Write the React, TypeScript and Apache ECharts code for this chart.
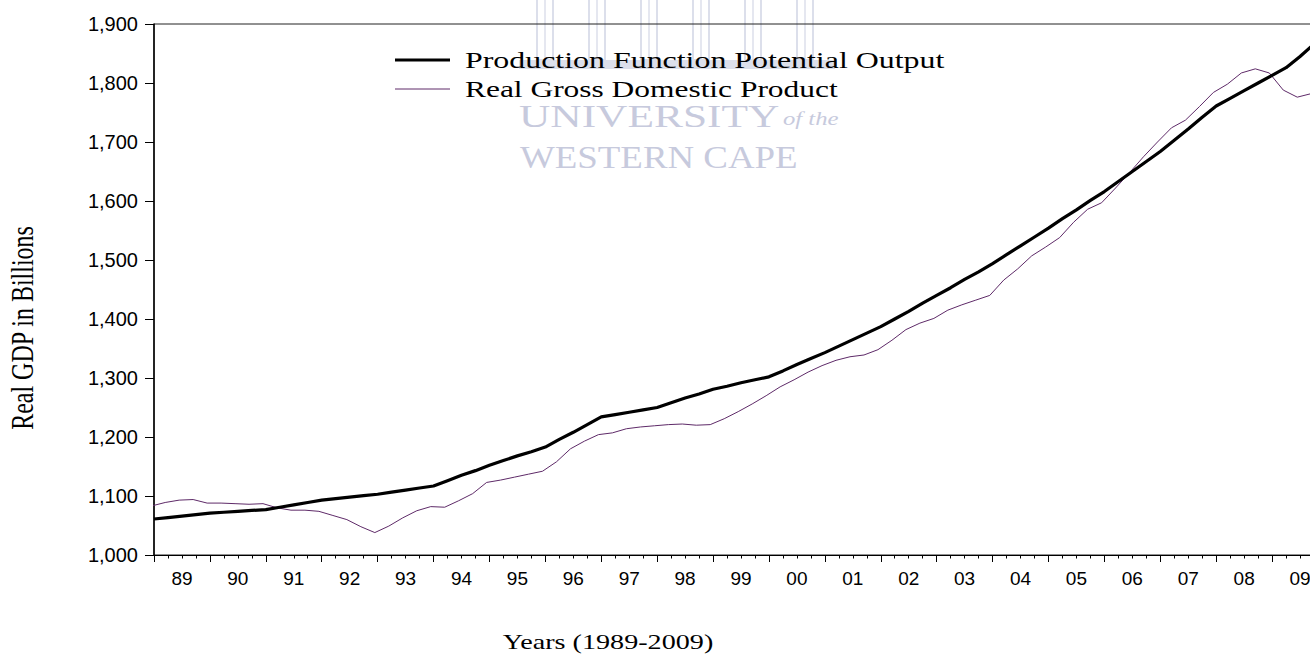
import React, { useEffect, useRef } from 'react';
import * as echarts from 'echarts';

// Year labels on the x axis (1989-2009), one band per year, four quarters each
const yearLabels = ['89', '90', '91', '92', '93', '94', '95', '96', '97', '98', '99', '00', '01', '02', '03', '04', '05', '06', '07', '08', '09'];

// Production Function Potential Output, quarterly 1989Q1-2009Q4 (R billions)
const potentialOutput = [
  1061, 1063.5, 1066, 1068.5, 1071, 1072.5, 1074, 1075.5, 1077, 1081, 1085, 1089,
  1093, 1095.5, 1098, 1100.5, 1103, 1106.5, 1110, 1113.5, 1117, 1126, 1135, 1143,
  1152, 1160, 1168, 1175, 1183, 1196, 1208, 1221, 1234, 1238, 1242, 1246,
  1250, 1258, 1266, 1273, 1281, 1286, 1292, 1297, 1302, 1312, 1323, 1333,
  1343, 1354, 1365, 1376, 1387, 1400, 1413, 1427, 1440, 1453, 1467, 1480,
  1494, 1509, 1524, 1539, 1554, 1570, 1585, 1601, 1616, 1633, 1650, 1667,
  1684, 1703, 1722, 1742, 1761, 1774, 1787, 1800, 1813, 1826, 1845, 1866,
];

// Real Gross Domestic Product, quarterly 1989Q1-2009Q4 (R billions)
const realGDP = [
  1083, 1089, 1093, 1094, 1088, 1088, 1087, 1086, 1087, 1080, 1076, 1076,
  1074, 1067, 1060, 1048, 1038, 1049, 1063, 1075, 1082, 1081, 1092, 1104,
  1123, 1127, 1132, 1137, 1142, 1158, 1180, 1193, 1204, 1207, 1214, 1217,
  1219, 1221, 1222, 1220, 1221, 1231, 1243, 1256, 1270, 1285, 1297, 1310,
  1321, 1330, 1336, 1339, 1348, 1364, 1382, 1393, 1401, 1415, 1424, 1432,
  1440, 1466, 1485, 1507, 1522, 1538, 1564, 1586, 1597, 1622, 1648, 1675,
  1700, 1724, 1737, 1760, 1784, 1798, 1817, 1824, 1817, 1788, 1776, 1782,
];

const seriesNames = ['Production Function Potential Output', 'Real Gross Domestic Product'];
const yTicks = { min: 1000, max: 1900, step: 100 };
const gdpOffset = -0.2; // the GDP series is drawn slightly ahead of the quarter ticks

export default function App() {
  const ref = useRef<HTMLDivElement>(null);

  useEffect(() => {
    if (!ref.current) return;
    const chart = echarts.init(ref.current, null, { renderer: 'svg' });
    const serif = "'Liberation Serif', 'Times New Roman', serif";
    const sans = "'Liberation Sans', Arial, sans-serif";
    const wm = '#c7cadd';
    const wmLight = '#dcdfeb';

    const pillarXs = [537, 589, 641, 693, 745, 797];
    const pillars: any[] = [];
    pillarXs.forEach((px) => {
      pillars.push({
        type: 'rect', z: -10, silent: true,
        shape: { x: px, y: -2, width: 16, height: 62 },
        style: { fill: 'none', stroke: wmLight, lineWidth: 2 },
      });
      pillars.push({
        type: 'line', z: -10, silent: true,
        shape: { x1: px + 8, y1: 0, x2: px + 8, y2: 60 },
        style: { stroke: wmLight, lineWidth: 1.5 },
      });
    });

    chart.setOption({
      animation: false,
      backgroundColor: '#ffffff',
      grid: { left: 154, right: 0, top: 24, bottom: 109, show: true, borderColor: '#222', borderWidth: 1, backgroundColor: 'transparent' },
      xAxis: [
        {
          type: 'value', min: 0, max: yearLabels.length * 4, interval: 4,
          axisLine: { show: true, onZero: false, lineStyle: { color: '#000', width: 1 } },
          axisTick: { show: true, length: 7, lineStyle: { color: '#000', width: 1 } },
          minorTick: { show: true, splitNumber: 4, length: 3.5, lineStyle: { color: '#000', width: 1 } },
          axisLabel: { show: false },
          splitLine: { show: false },
          minorSplitLine: { show: false },
        },
        {
          type: 'category', data: yearLabels, boundaryGap: true, position: 'bottom',
          axisLine: { show: false, onZero: false }, axisTick: { show: false },
          axisLabel: { color: '#000', fontSize: 19, fontFamily: sans, margin: 14 },
          splitLine: { show: false },
        },
      ],
      yAxis: {
        type: 'value', min: yTicks.min, max: yTicks.max, interval: yTicks.step,
        axisLine: { show: true, onZero: false, lineStyle: { color: '#000', width: 1.5 } },
        axisTick: { show: true, length: 9, lineStyle: { color: '#000', width: 1 } },
        axisLabel: {
          color: '#000', fontSize: 20, fontFamily: sans, margin: 16,
          formatter: (v: number) => v.toLocaleString('en-US'),
        },
        splitLine: { show: false },
      },
      graphic: [
        // watermark
        ...pillars,
        { type: 'rect', z: -10, silent: true, shape: { x: 519, y: 60, width: 316, height: 9 }, style: { fill: wmLight } },
        { type: 'text', z: -10, silent: true, x: 519, y: 116, scaleX: 1.4, style: { text: 'UNIVERSITY', fontSize: 31, fontFamily: serif, fill: wm, verticalAlign: 'middle', align: 'left' } },
        { type: 'text', z: -10, silent: true, x: 783, y: 119, scaleX: 1.3, style: { text: 'of the', fontSize: 19, fontStyle: 'italic', fontFamily: serif, fill: wm, verticalAlign: 'middle', align: 'left' } },
        { type: 'text', z: -10, silent: true, x: 520, y: 158, scaleX: 1.19, style: { text: 'WESTERN CAPE', fontSize: 31, fontFamily: serif, fill: wm, verticalAlign: 'middle', align: 'left' } },
        // legend
        { type: 'line', z: 10, shape: { x1: 395, y1: 60, x2: 450, y2: 60 }, style: { stroke: '#000', lineWidth: 3 } },
        { type: 'line', z: 10, shape: { x1: 395, y1: 89, x2: 450, y2: 89 }, style: { stroke: '#5e2a68', lineWidth: 1 } },
        { type: 'text', z: 10, x: 465, y: 60, scaleX: 1.33, style: { text: seriesNames[0], fontSize: 24, fontFamily: serif, fill: '#000', verticalAlign: 'middle', align: 'left' } },
        { type: 'text', z: 10, x: 465, y: 89, scaleX: 1.31, style: { text: seriesNames[1], fontSize: 24, fontFamily: serif, fill: '#000', verticalAlign: 'middle', align: 'left' } },
        // axis titles
        { type: 'text', x: 608, y: 641, scaleX: 1.28, style: { text: 'Years (1989-2009)', fontSize: 22, fontFamily: serif, fill: '#000', verticalAlign: 'middle', align: 'center' } },
        { type: 'text', x: 22, y: 328, rotation: Math.PI / 2, scaleY: 1.3, style: { text: 'Real GDP in Billions', fontSize: 24, fontFamily: serif, fill: '#000', verticalAlign: 'middle', align: 'center' } },
      ],
      series: [
        {
          name: seriesNames[1], type: 'line', xAxisIndex: 0, yAxisIndex: 0,
          data: realGDP.map((v, i) => [i + gdpOffset, v]),
          showSymbol: false, clip: true,
          lineStyle: { color: '#5e2a68', width: 1 }, itemStyle: { color: '#5e2a68' },
          z: 3,
        },
        {
          name: seriesNames[0], type: 'line', xAxisIndex: 0, yAxisIndex: 0,
          data: potentialOutput.map((v, i) => [i, v]),
          showSymbol: false, clip: true,
          lineStyle: { color: '#000', width: 3.2 }, itemStyle: { color: '#000' },
          z: 4,
        },
      ],
    });

    return () => chart.dispose();
  }, []);

  return (
    <div style={{ position: 'fixed', left: 0, top: 0, width: 1310, height: 664, overflow: 'hidden', background: '#fff' }}>
      <div ref={ref} style={{ width: 1328, height: 664 }} />
    </div>
  );
}
